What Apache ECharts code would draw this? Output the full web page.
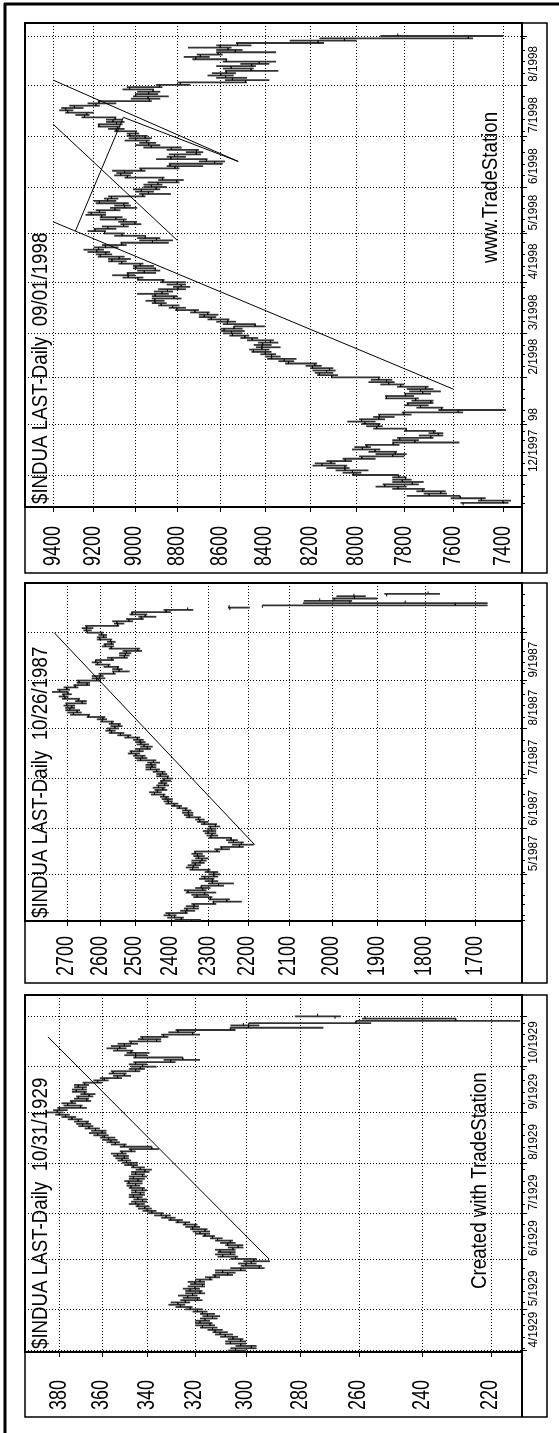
<!DOCTYPE html>
<html>
<head>
<meta charset="utf-8">
<script src="https://cdn.jsdelivr.net/npm/echarts@6/dist/echarts.min.js"></script>
<style>
html, body { margin: 0; padding: 0; background: #fff; }
#chart { width: 559px; height: 1433px; }
</style>
</head>
<body>
<div id="chart"></div>
<script>
// ---- data: daily bars [open, high, low, close] ----
var ohlc98 = [
  // Nov 1997
  [7560,7570,7380,7401],[7401,7500,7370,7487],[7487,7610,7470,7572],[7572,7790,7572,7698],[7698,7720,7625,7650],[7650,7750,7630,7724],[7724,7850,7715,7826],[7826,7920,7790,7881],[7881,7890,7740,7767],[7767,7850,7720,7808],[7808,7850,7770,7795],[7795,7850,7790,7823],
  // Dec
  [7823,8020,7823,8013],[8013,8060,7980,8018],[8018,8090,7950,8050],[8050,8130,8030,8050],[8050,8190,8040,8149],[8149,8180,8090,8110],[8110,8130,8020,8049],[8049,8060,7920,7978],[7978,7990,7800,7848],[7848,7920,7790,7838],[7838,7950,7830,7922],[7922,8020,7900,7976],[7976,8010,7940,7957],[7957,7965,7820,7846],[7846,7850,7575,7756],[7756,7850,7740,7819],[7819,7830,7680,7691],[7691,7740,7640,7660],[7660,7700,7640,7679],[7679,7800,7670,7792],[7792,7930,7790,7915],[7915,7960,7890,7908],
  // Jan 1998
  [7908,7980,7900,7965],[7965,8040,7920,7979],[7979,7990,7880,7906],[7906,7930,7840,7903],[7903,7910,7770,7802],[7802,7810,7560,7580],[7580,7660,7390,7647],[7647,7750,7640,7733],[7733,7800,7700,7785],[7785,7790,7680,7691],[7691,7770,7680,7753],[7753,7880,7740,7874],[7874,7880,7760,7795],[7795,7800,7690,7724],[7724,7780,7650,7733],[7733,7790,7680,7712],[7712,7830,7700,7815],[7815,7900,7800,7865],[7865,7950,7840,7874],[7874,7940,7850,7907],
  // Feb
  [7907,8110,7900,8107],[8107,8170,8080,8160],[8160,8180,8100,8129],[8129,8190,8090,8116],[8116,8200,8100,8190],[8190,8220,8150,8180],[8180,8310,8170,8295],[8295,8340,8270,8314],[8314,8390,8260,8370],[8370,8400,8330,8370],[8370,8420,8350,8398],[8398,8460,8370,8451],[8451,8470,8380,8413],[8413,8440,8330,8413],[8413,8450,8370,8410],[8410,8430,8340,8375],[8375,8480,8360,8457],[8457,8510,8430,8490],[8490,8560,8470,8546],
  // Mar
  [8546,8590,8500,8550],[8550,8600,8490,8584],[8584,8600,8500,8539],[8539,8540,8400,8444],[8444,8590,8440,8569],[8569,8620,8530,8567],[8567,8660,8560,8643],[8643,8700,8620,8675],[8675,8700,8610,8659],[8659,8740,8650,8718],[8718,8810,8700,8803],[8803,8840,8760,8822],[8822,8890,8790,8876],[8876,8920,8850,8905],[8905,8950,8860,8906],[8906,8920,8780,8816],[8816,8920,8800,8904],[8904,8990,8840,8872],[8872,8910,8820,8846],[8846,8890,8760,8797],[8797,8820,8740,8782],[8782,8850,8760,8800],
  // Apr
  [8800,8880,8760,8868],[8868,8990,8860,8986],[8986,9060,8960,9033],[9033,9110,9000,9034],[9034,9040,8900,8956],[8956,8990,8880,8904],[8904,9010,8900,8996],[8996,9010,8910,8975],[8975,9080,8960,9064],[9064,9130,9040,9111],[9111,9130,9020,9076],[9076,9180,9050,9168],[9168,9190,9110,9141],[9141,9230,9120,9185],[9185,9250,9150,9176],[9176,9200,9080,9143],[9143,9160,9040,9064],[9064,9070,8840,8917],[8917,8980,8820,8898],[8898,8990,8880,8951],[8951,9100,8950,9063],
  // May
  [9063,9150,9050,9147],[9147,9230,9140,9193],[9193,9200,9090,9131],[9131,9160,9030,9055],[9055,9070,8970,9001],[9001,9080,8990,9055],[9055,9170,9040,9092],[9092,9170,9060,9161],[9161,9240,9140,9212],[9212,9230,9140,9172],[9172,9190,9070,9096],[9096,9120,8990,9050],[9050,9100,9020,9054],[9054,9190,9030,9172],[9172,9200,9090,9132],[9132,9150,9080,9114],[9114,9130,8950,8963],[8963,8980,8830,8936],[8936,9000,8910,8970],[8970,9010,8880,8900],
  // Jun
  [8900,8960,8850,8922],[8922,8960,8870,8891],[8891,8940,8790,8803],[8803,8890,8770,8870],[8870,9050,8860,9037],[9037,9100,9020,9069],[9069,9090,9010,9050],[9050,9110,8950,8971],[8971,8980,8790,8811],[8811,8850,8680,8834],[8834,8840,8590,8627],[8627,8700,8580,8665],[8665,8900,8660,8830],[8830,8850,8760,8813],[8813,8840,8690,8712],[8712,8760,8680,8711],[8711,8850,8700,8828],[8828,8960,8780,8923],[8923,9000,8880,8935],[8935,8980,8900,8945],[8945,9050,8930,8997],[8997,9030,8920,8952],
  // Jul
  [8952,9040,8940,9025],[9025,9040,8980,8997],[8997,9100,8990,9090],[9090,9130,9050,9085],[9085,9180,9070,9174],[9174,9180,9060,9089],[9089,9140,9050,9106],[9106,9140,9060,9096],[9096,9260,9090,9245],[9245,9290,9220,9234],[9234,9340,9200,9328],[9328,9370,9300,9338],[9338,9360,9250,9295],[9295,9320,9170,9189],[9189,9230,9090,9174],[9174,9180,8920,8932],[8932,9020,8880,8938],[8938,9010,8840,8997],[8997,9000,8890,8935],[8935,8990,8880,8914],[8914,9060,8910,9026],[9026,9040,8870,8884],
  // Aug
  [8884,8900,8740,8786],[8786,8800,8480,8487],[8487,8580,8380,8546],[8546,8620,8480,8577],[8577,8660,8540,8599],[8599,8640,8530,8574],[8574,8580,8340,8462],[8462,8590,8450,8552],[8552,8620,8440,8459],[8459,8510,8380,8425],[8425,8590,8350,8574],[8574,8730,8570,8714],[8714,8770,8650,8693],[8693,8710,8590,8611],[8611,8620,8350,8533],[8533,8620,8500,8566],[8566,8750,8550,8602],[8602,8620,8460,8523],[8523,8530,8140,8166],[8166,8290,8000,8052],[8052,8160,7520,7539],
  // Sep 1
  [7539,7900,7400,7827]
];

var ohlc87 = [
  // Apr 1987
  [2345,2390,2320,2372],[2372,2410,2365,2390],[2390,2420,2385,2405],[2405,2415,2355,2360],[2360,2375,2335,2357],[2357,2365,2325,2339],[2339,2360,2325,2338],[2338,2345,2280,2287],[2287,2290,2215,2253],[2253,2300,2245,2295],[2295,2340,2290,2330],[2330,2345,2300,2310],[2310,2360,2280,2354],[2354,2365,2305,2315],[2315,2335,2295,2319],[2319,2320,2260,2274],[2274,2300,2235,2290],[2290,2310,2275,2290],[2290,2325,2285,2310],[2310,2320,2275,2286],
  // May
  [2286,2300,2270,2286],[2286,2310,2275,2301],[2301,2350,2295,2342],[2342,2360,2325,2340],[2340,2355,2320,2335],[2335,2345,2310,2322],[2322,2345,2305,2317],[2317,2335,2300,2326],[2326,2340,2310,2329],[2329,2345,2315,2335],[2335,2338,2270,2278],[2278,2285,2245,2266],[2266,2270,2210,2221],[2221,2240,2185,2216],[2216,2250,2210,2236],[2236,2255,2225,2242],[2242,2300,2240,2294],[2294,2305,2275,2291],[2291,2310,2280,2301],[2301,2315,2280,2292],
  // Jun
  [2292,2305,2280,2295],[2295,2300,2270,2282],[2282,2320,2278,2311],[2311,2330,2300,2323],[2323,2335,2310,2326],[2326,2360,2320,2351],[2351,2365,2340,2353],[2353,2370,2340,2353],[2353,2370,2345,2360],[2360,2385,2355,2377],[2377,2400,2370,2391],[2391,2415,2380,2407],[2407,2420,2395,2408],[2408,2425,2395,2413],[2413,2430,2405,2420],[2420,2455,2415,2445],[2445,2460,2425,2437],[2437,2445,2410,2422],[2422,2450,2415,2434],[2434,2440,2405,2417],[2417,2435,2410,2425],[2425,2430,2400,2419],
  // Jul
  [2419,2425,2395,2409],[2409,2440,2405,2429],[2429,2440,2410,2423],[2423,2450,2415,2439],[2439,2470,2430,2456],[2456,2470,2440,2452],[2452,2470,2440,2455],[2455,2465,2430,2448],[2448,2495,2440,2484],[2484,2500,2465,2479],[2479,2505,2470,2497],[2497,2520,2485,2510],[2510,2515,2475,2487],[2487,2500,2455,2465],[2465,2485,2450,2474],[2474,2495,2460,2483],[2483,2500,2470,2485],[2485,2505,2475,2493],[2493,2530,2485,2519],[2519,2550,2510,2541],[2541,2575,2530,2567],[2567,2585,2555,2572],
  // Aug
  [2572,2580,2545,2557],[2557,2570,2535,2546],[2546,2575,2540,2566],[2566,2600,2560,2594],[2594,2610,2580,2592],[2592,2640,2585,2635],[2635,2690,2630,2680],[2680,2700,2655,2669],[2669,2705,2660,2691],[2691,2705,2675,2685],[2685,2710,2675,2700],[2700,2705,2640,2654],[2654,2675,2640,2665],[2665,2715,2660,2706],[2706,2725,2695,2709],[2709,2715,2685,2697],[2697,2746,2695,2722],[2722,2730,2690,2701],[2701,2710,2665,2675],[2675,2680,2630,2639],[2639,2670,2630,2663],
  // Sep
  [2663,2670,2600,2610],[2610,2625,2585,2602],[2602,2625,2590,2599],[2599,2605,2555,2561],[2561,2565,2515,2545],[2545,2565,2535,2549],[2549,2590,2545,2576],[2576,2615,2570,2608],[2608,2625,2595,2613],[2613,2615,2560,2566],[2566,2580,2520,2530],[2530,2545,2515,2527],[2527,2545,2510,2524],[2524,2535,2480,2492],[2492,2575,2485,2568],[2568,2595,2560,2585],[2585,2590,2560,2567],[2567,2580,2555,2570],[2570,2610,2565,2601],[2601,2610,2580,2590],[2590,2605,2580,2596],
  // Oct
  [2596,2640,2590,2639],[2639,2650,2625,2641],[2641,2655,2620,2640],[2640,2645,2545,2549],[2549,2560,2530,2551],[2551,2565,2505,2517],[2517,2525,2475,2482],[2482,2490,2440,2471],[2471,2515,2465,2508],[2508,2510,2400,2413],[2413,2420,2340,2355],[2245,2250,2195,2247],[2164,2164,1677,1739],[1740,2067,1677,1841],[1960,2065,1955,2028],[1995,2000,1900,1950],[1950,1990,1925,1951],[1880,1885,1770,1794]
];

var ohlc29 = [
  // Apr 1929
  [303,307,300,304],[304,306,296,298],[298,304,296,302],[302,308,300,306],[306,308,300,302],[302,307,301,305],[305,310,303,308],[308,312,305,310],[310,313,307,312],[312,315,309,313],[313,318,311,317],[317,320,312,314],[314,320,313,318],[318,320,314,316],[316,318,311,313],[313,317,310,315],[315,318,312,317],[317,321,315,319],
  // May
  [319,324,317,322],[322,328,321,326],[326,331,324,327],[327,330,322,324],[324,326,317,319],[319,325,318,323],[323,327,319,321],[321,324,316,318],[318,324,317,322],[322,325,318,320],[320,323,316,317],[317,322,316,320],[320,323,316,318],[318,320,313,314],[314,316,310,312],[312,313,305,307],[307,312,304,309],[309,312,300,302],[302,306,293,295],[295,302,294,300],[300,303,296,298],[298,301,291,297],
  // Jun
  [297,306,296,304],[304,311,303,309],[309,312,304,306],[306,311,304,310],[310,312,304,305],[305,307,301,303],[303,308,301,307],[307,310,304,306],[306,312,305,311],[311,314,309,313],[313,317,312,316],[316,320,314,318],[318,321,314,316],[316,322,315,321],[321,324,318,320],[320,325,319,324],[324,328,322,327],[327,331,325,330],[330,334,328,332],[332,337,330,334],
  // Jul
  [334,340,333,338],[338,342,336,340],[340,344,338,341],[341,345,339,344],[344,348,341,345],[345,347,340,342],[342,346,340,344],[344,348,342,346],[346,348,341,343],[343,347,341,345],[345,347,340,342],[342,348,341,347],[347,349,343,345],[345,349,342,348],[348,350,342,344],[344,348,341,346],[346,348,340,342],[342,347,341,345],[345,347,339,341],[341,345,338,343],[343,347,341,346],[346,350,344,348],
  // Aug
  [347,351,344,349],[349,353,347,351],[351,354,348,350],[350,355,348,353],[353,356,349,351],[351,352,345,347],[347,348,335,338],[338,352,338,350],[350,356,349,354],[354,358,352,356],[356,360,353,357],[357,361,354,359],[359,364,357,362],[362,366,358,360],[360,365,358,363],[363,368,361,366],[366,371,364,369],[369,372,365,367],[367,373,366,371],[371,376,369,374],[374,379,372,377],[377,382,375,380],
  // Sep
  [380,386,378,381],[381,383,376,380],[380,381,367,370],[370,378,369,376],[376,379,372,374],[374,375,365,367],[367,373,366,371],[371,372,364,366],[366,370,363,368],[368,374,367,372],[372,374,367,369],[369,373,367,371],[371,373,366,368],[368,369,360,362],[362,364,357,359],[359,361,351,353],[353,355,347,350],[350,357,349,355],[355,356,343,345],[345,348,341,343],
  // Oct
  [343,347,336,342],[342,348,340,345],[345,346,328,330],[330,333,318,325],[325,346,325,345],[345,350,340,345],[345,349,339,347],[347,355,346,353],[353,358,349,352],[352,356,347,350],[350,353,344,347],[347,348,334,336],[336,344,334,342],[342,343,331,333],[333,334,318,321],[321,331,320,327],[327,328,304,306],[306,306,272,299],[299,306,295,301],[299,299,256,261],[261,261,212,230],[230,259,230,258],[268,282,266,274]
];

// first bar dates and exchange holidays (weekdays with no bar)
var start98 = '1997-11-12', start87 = '1987-04-02', start29 = '1929-04-05';
var holidays98 = ['1997-11-27','1997-12-25','1998-01-01','1998-01-19','1998-02-16','1998-04-10','1998-05-25','1998-07-03'];
var holidays87 = ['1987-04-17','1987-05-25','1987-07-03','1987-09-07'];
var holidays29 = ['1929-05-30','1929-07-04','1929-09-02'];

// price tick labels
var ticks98 = [9400, 9200, 9000, 8800, 8600, 8400, 8200, 8000, 7800, 7600, 7400];
var ticks87 = [2700, 2600, 2500, 2400, 2300, 2200, 2100, 2000, 1900, 1800, 1700];
var ticks29 = [380, 360, 340, 320, 300, 280, 260, 240, 220];

// hand drawn trend lines: [date, price] points
var trends98 = [
  [['1998-01-26', 7600], ['1998-05-08', 9400]],
  [['1998-04-28', 8800], ['1998-07-09', 9400]],
  [['1998-05-04', 9290], ['1998-07-14', 9056], ['1998-06-16', 8520]],
  [['1998-06-16', 8520], ['1998-08-05', 9400]]
];
var trends87 = [[['1987-05-20', 2183], ['1987-10-01', 2739]]];
var trends29 = [[['1929-06-03', 291.4], ['1929-10-18', 385.5]]];

var FONT = "'Liberation Sans', Arial, Helvetica, sans-serif";
var LEFT = 25, PLOT_RIGHT = 522, OUTER_RIGHT = 547;

var panels = [
  { title: '$INDUA LAST-Daily  09/01/1998', ohlc: ohlc98, start: start98, holidays: holidays98,
    ticks: ticks98, range: [7327, 9542], trends: trends98, hide: ['11/1997', '9/1998'], edgeGrid: [false, false],
    top: 23, plotBottom: 507, bottom: 573, idxRange: [-1.77, 206.6] },
  { title: '$INDUA LAST-Daily  10/26/1987', ohlc: ohlc87, start: start87, holidays: holidays87,
    ticks: ticks87, range: [1613, 2831], trends: trends87, hide: ['4/1987', '10/1987'], edgeGrid: [false, false],
    top: 583, plotBottom: 921, bottom: 983, idxRange: [-0.48, 147.8] },
  { title: '$INDUA LAST-Daily  10/31/1929', ohlc: ohlc29, start: start29, holidays: holidays29,
    ticks: ticks29, range: [211.5, 396.9], trends: trends29, hide: [], edgeGrid: [true, true],
    top: 995, plotBottom: 1352, bottom: 1417, idxRange: [-0.65, 155.3] }
];

function tradingDays(start, count, holidays) {
  var d = new Date(start + 'T00:00:00Z'), out = [];
  while (out.length < count) {
    var wd = d.getUTCDay(), s = d.toISOString().slice(0, 10);
    if (wd !== 0 && wd !== 6 && holidays.indexOf(s) < 0) out.push(s);
    d.setUTCDate(d.getUTCDate() + 1);
  }
  return out;
}

function weekKey(s) {
  var t = new Date(s + 'T00:00:00Z');
  t.setUTCDate(t.getUTCDate() - (t.getUTCDay() + 6) % 7);
  return t.toISOString().slice(0, 10);
}

function renderBar(params, api) {
  var i = api.value(0);
  var o = api.coord([api.value(1), i]);
  var h = api.coord([api.value(2), i]);
  var l = api.coord([api.value(3), i]);
  var c = api.coord([api.value(4), i]);
  var st = { stroke: '#333', lineWidth: 1.8 };
  var tk = { stroke: '#000', lineWidth: 1 };
  return {
    type: 'group',
    children: [
      { type: 'line', shape: { x1: h[0], y1: h[1], x2: l[0], y2: l[1] }, style: st },
      { type: 'line', shape: { x1: o[0], y1: o[1], x2: o[0], y2: o[1] + 2.5 }, style: tk },
      { type: 'line', shape: { x1: c[0], y1: c[1], x2: c[0], y2: c[1] - 2.5 }, style: tk }
    ]
  };
}

// text reading bottom-to-top, squeezed along its length like the condensed original face
function vText(x, y, text, size, scale, vAlign) {
  return { type: 'text', x: x, y: y, rotation: Math.PI / 2, scaleX: scale, scaleY: 1,
    style: { text: text, fontSize: size, fontFamily: FONT, fill: '#000', align: 'left', verticalAlign: vAlign } };
}

var grids = [], xAxes = [], yAxes = [], series = [], graphics = [];
var dotted = { color: '#000', width: 1, type: [1, 2] };

panels.forEach(function (p) {
  var dates = tradingDays(p.start, p.ohlc.length, p.holidays);
  var n = dates.length;
  var monthIdx = [], weekIdx = [], labelText = {};
  var prevMonth = null, prevWeek = null;
  dates.forEach(function (d, i) {
    var m = d.slice(0, 7);
    if (m !== prevMonth) {
      monthIdx.push(i);
      var mm = +d.slice(5, 7), yy = d.slice(0, 4);
      labelText[i] = mm === 1 ? yy.slice(2) : mm + '/' + yy;
    }
    prevMonth = m;
    var wk = weekKey(d);
    if (wk !== prevWeek) weekIdx.push(i);
    prevWeek = wk;
  });
  var gridIdx = monthIdx.filter(function (i) { return i > 0 || p.edgeGrid[0]; });
  if (p.edgeGrid[1] && gridIdx.indexOf(n - 1) < 0) gridIdx.push(n - 1);
  p.labelIdx = monthIdx.filter(function (i) { return p.hide.indexOf(labelText[i]) < 0; });
  p.labelText = labelText;

  var lnTicks = p.ticks.map(Math.log);
  var xmin = Math.log(p.range[0]), xmax = Math.log(p.range[1]);
  var g = grids.length;
  p.grid = g;
  var rect = { left: LEFT, top: p.top, width: PLOT_RIGHT - LEFT, height: p.plotBottom - p.top };

  grids.push(Object.assign({ show: true, borderColor: '#000', borderWidth: 2, backgroundColor: 'transparent' }, rect));
  grids.push(Object.assign({ show: false }, rect));

  xAxes.push({
    gridIndex: g, type: 'value', inverse: true, min: xmin, max: xmax, position: 'bottom',
    axisLine: { show: true, onZero: false, lineStyle: { color: '#000', width: 2 } },
    axisTick: { show: true, customValues: lnTicks, length: 5, lineStyle: { color: '#000', width: 1 } },
    axisLabel: { show: false },
    splitLine: { show: true, lineStyle: dotted }
  });
  xAxes.push({ gridIndex: g + 1, type: 'value', show: false, min: xmin, max: xmax, inverse: true });

  yAxes.push({
    gridIndex: g, type: 'value', min: p.idxRange[0], max: p.idxRange[1], position: 'right',
    axisLine: { show: true, onZero: false, lineStyle: { color: '#000', width: 2 } },
    axisTick: { show: true, customValues: gridIdx, length: 5, lineStyle: { color: '#000', width: 1 } },
    axisLabel: { show: false },
    splitLine: { show: true, lineStyle: dotted }
  });
  yAxes.push({
    gridIndex: g + 1, type: 'value', min: p.idxRange[0], max: p.idxRange[1], position: 'right',
    axisLine: { show: false },
    axisTick: { show: true, customValues: weekIdx, length: 3, lineStyle: { color: '#000', width: 1 } },
    axisLabel: { show: false }, splitLine: { show: false }
  });

  series.push({
    type: 'custom', xAxisIndex: g, yAxisIndex: g, renderItem: renderBar, clip: true, silent: true,
    encode: { x: [1, 2, 3, 4], y: 0 },
    data: p.ohlc.map(function (b, i) {
      return [i, Math.log(b[0]), Math.log(b[1]), Math.log(b[2]), Math.log(b[3])];
    })
  });
  p.trends.forEach(function (tr) {
    series.push({
      type: 'line', xAxisIndex: g, yAxisIndex: g, showSymbol: false, silent: true, clip: true,
      lineStyle: { color: '#000', width: 1 },
      data: tr.map(function (pt) { return [Math.log(pt[1]), dates.indexOf(pt[0])]; })
    });
  });

  // panel frame, right strip divider, title
  graphics.push({ type: 'rect', shape: { x: LEFT, y: p.top, width: OUTER_RIGHT - LEFT, height: p.bottom - p.top },
    style: { fill: 'none', stroke: '#000', lineWidth: 1.5 } });
  graphics.push({ type: 'line', shape: { x1: PLOT_RIGHT, y1: p.top, x2: PLOT_RIGHT, y2: p.bottom },
    style: { stroke: '#000', lineWidth: 2 } });
  graphics.push(vText(41, p.plotBottom - 3, p.title, 22, 0.85, 'middle'));
});

graphics.push(vText(491, 263, 'www.TradeStation', 22, 0.85, 'middle'));
graphics.push(vText(480, 1289, 'Created with TradeStation', 22, 0.85, 'middle'));
// page border
graphics.push({ type: 'line', shape: { x1: 5, y1: 3, x2: 5, y2: 1433 }, style: { stroke: '#000', lineWidth: 3 } });
graphics.push({ type: 'line', shape: { x1: 4, y1: 4, x2: 559, y2: 4 }, style: { stroke: '#000', lineWidth: 3 } });

var chart = echarts.init(document.getElementById('chart'), null, { renderer: 'canvas' });
chart.setOption({
  animation: false,
  backgroundColor: '#fff',
  grid: grids,
  xAxis: xAxes,
  yAxis: yAxes,
  series: series,
  graphic: graphics
});

// axis labels, positioned through the axes' own scales
var labels = [];
panels.forEach(function (p) {
  p.ticks.forEach(function (t) {
    var pt = chart.convertToPixel({ gridIndex: p.grid }, [Math.log(t), p.idxRange[0]]);
    labels.push(vText(pt[0], p.bottom - 7, String(t), 23, 0.78, 'middle'));
  });
  p.labelIdx.forEach(function (i) {
    var pt = chart.convertToPixel({ gridIndex: p.grid }, [Math.log(p.range[0]), i]);
    labels.push(vText(PLOT_RIGHT + 5, pt[1] - 3, p.labelText[i], 13, 0.9, 'top'));
  });
});
chart.setOption({ graphic: graphics.concat(labels) });
</script>
</body>
</html>
